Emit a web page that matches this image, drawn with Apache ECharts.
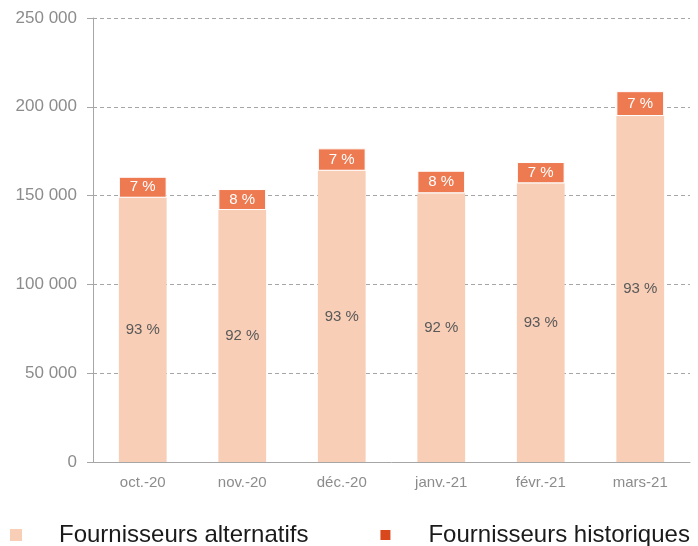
<!DOCTYPE html>
<html>
<head>
<meta charset="utf-8">
<script src="https://cdn.jsdelivr.net/npm/echarts@6/dist/echarts.min.js"></script>
<style>
  html, body { margin: 0; padding: 0; background: #fff; }
  #chart { width: 698px; height: 546px; }
</style>
</head>
<body>
<div id="chart"></div>
<script>
const months = ['oct.-20', 'nov.-20', 'déc.-20', 'janv.-21', 'févr.-21', 'mars-21'];
const alternatifs = [148800, 141900, 164000, 151300, 156900, 194800];
const historiques = [11800, 11800, 12600, 12700, 12000, 14000];
const altLabels = ['93 %', '92 %', '93 %', '92 %', '93 %', '93 %'];
const histLabels = ['7 %', '8 %', '7 %', '8 %', '7 %', '7 %'];
const yTicks = [0, 50000, 100000, 150000, 200000, 250000];

function fmtThousands(v) {
  return String(v).replace(/\B(?=(\d{3})+(?!\d))/g, ' ');
}

const chart = echarts.init(document.getElementById('chart'));

chart.setOption({
  animation: false,
  textStyle: { fontFamily: 'Liberation Sans, Arial, sans-serif' },
  grid: { left: 93, right: 8, top: 18, bottom: 84 },
  legend: {
    left: 10,
    top: 523,
    padding: 0,
    itemWidth: 12,
    itemHeight: 12,
    itemGap: 70,
    icon: 'rect',
    textStyle: {
      fontSize: 24,
      color: '#1a1a1a',
      padding: [0, 0, 0, 32]
    },
    data: [
      { name: 'Fournisseurs alternatifs', itemStyle: { color: '#F8CEB7' } },
      { name: 'Fournisseurs historiques', itemStyle: { color: '#D9481C' } }
    ]
  },
  xAxis: {
    type: 'category',
    data: months,
    axisLine: { lineStyle: { color: '#a6a6a6' } },
    axisTick: { length: 5, lineStyle: { color: '#a6a6a6' } },
    axisLabel: { color: '#8c8c8c', fontSize: 15, margin: 13 }
  },
  yAxis: {
    type: 'value',
    min: yTicks[0],
    max: yTicks[yTicks.length - 1],
    interval: 50000,
    axisLine: { show: true, lineStyle: { color: '#a6a6a6' } },
    axisTick: { show: true, length: 6, lineStyle: { color: '#a6a6a6' } },
    axisLabel: { color: '#8c8c8c', fontSize: 17, margin: 16, formatter: fmtThousands },
    splitLine: { lineStyle: { color: '#a6a6a6', type: [4, 3] } }
  },
  series: [
    {
      name: 'Fournisseurs alternatifs',
      type: 'bar',
      stack: 'total',
      barWidth: '48%',
      data: alternatifs,
      itemStyle: { color: '#F8CEB7' },
      label: {
        show: true,
        position: 'inside',
        color: '#595959',
        fontSize: 15,
        formatter: (p) => altLabels[p.dataIndex]
      }
    },
    {
      name: 'Fournisseurs historiques',
      type: 'bar',
      stack: 'total',
      data: historiques,
      itemStyle: { color: '#EE7A52', borderColor: '#ffffff', borderWidth: 1 },
      label: {
        show: true,
        position: 'inside',
        color: '#ffffff',
        fontSize: 15,
        formatter: (p) => histLabels[p.dataIndex]
      }
    }
  ]
});
</script>
</body>
</html>
